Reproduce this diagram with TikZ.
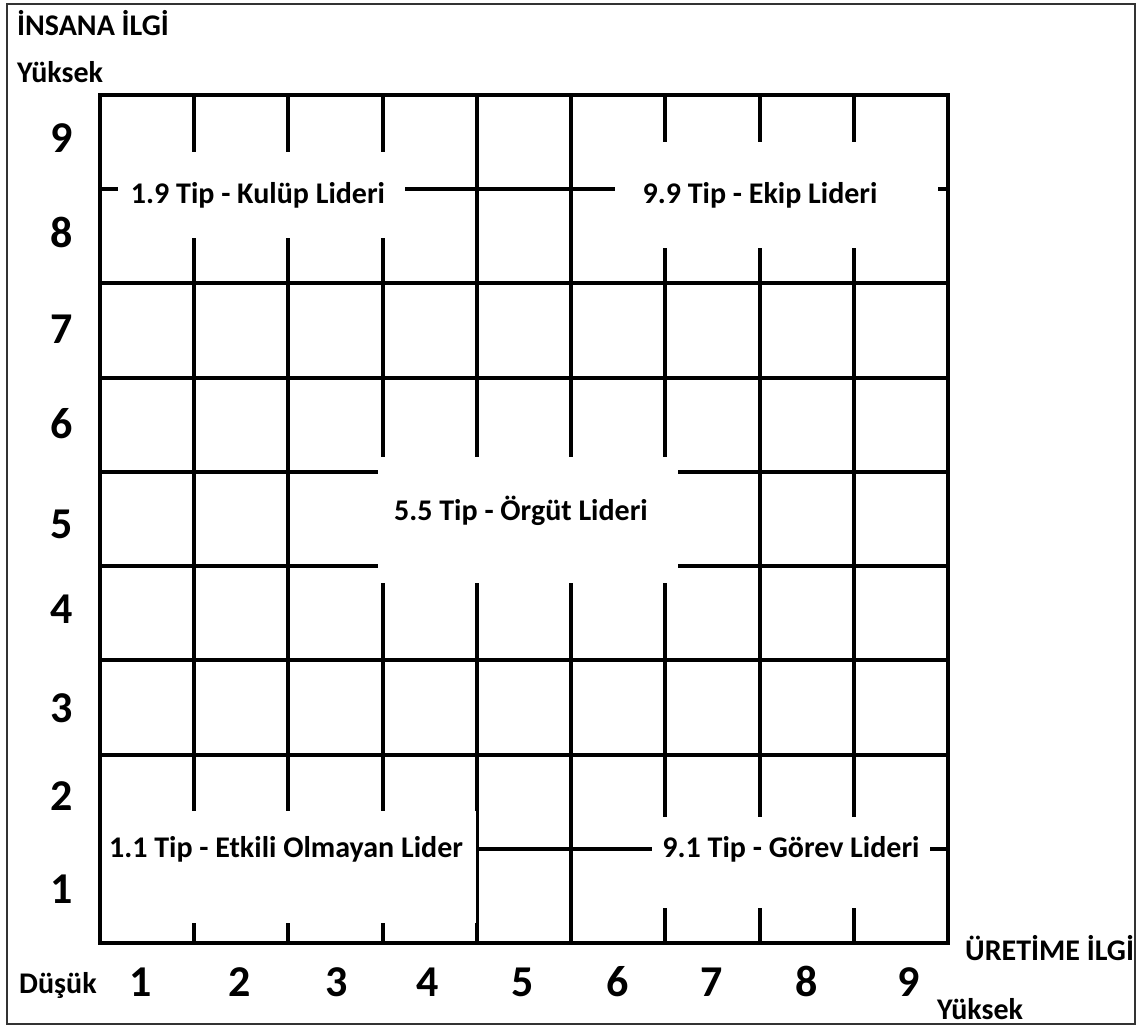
\documentclass[tikz,border=0pt]{standalone}
\usepackage{fontspec}
\setmainfont{Carlito}
\begin{document}
\begin{tikzpicture}[x=1pt,y=-1pt,
    gridline/.style={line width=4pt},
    patch/.style={fill=white},
    lbl/.style={font=\fontsize{30}{34}\selectfont\bfseries, anchor=base, inner sep=0pt},
    axis/.style={font=\fontsize{30}{34}\selectfont\bfseries, anchor=base west, inner sep=0pt},
    num/.style={font=\fontsize{44}{48}\selectfont\bfseries, anchor=base, inner sep=0pt}
]
\useasboundingbox (0,0) rectangle (1139,1027);
\draw[line width=2pt, black!80] (7,4) rectangle (1135,1024);

% inner grid lines
\foreach \i in {1,...,8} {
    \draw[gridline] ({100+94.22*\i},95) -- ({100+94.22*\i},943);
    \draw[gridline] (100,{95+94.22*\i}) -- (948,{95+94.22*\i});
}

% white areas behind the labels
\fill[patch] (118,152) rectangle (405,238);
\fill[patch] (615,142) rectangle (938,248);
\fill[patch] (378,457) rectangle (678,583);
\fill[patch] (101,811) rectangle (476,923);
\fill[patch] (652,817) rectangle (930,908);

\draw[gridline] (100,95) rectangle (948,943);

% leader types
\node[lbl] (club) at (258,203) {1.9 Tip - Kulüp Lideri};
\node[lbl] (team) at (760,203) {9.9 Tip - Ekip Lideri};
\node[lbl] (org) at (521,520) {5.5 Tip - Örgüt Lideri};
\node[lbl] (weak) at (286,857) {1.1 Tip - Etkili Olmayan Lider};
\node[lbl] (task) at (791,857) {9.1 Tip - Görev Lideri};

% axes
\node[axis] (people) at (17,36) {İNSANA İLGİ};
\node[axis] (yhigh) at (17,83) {Yüksek};
\node[axis] (xlow) at (19,993) {Düşük};
\node[axis] (prod) at (965,960) {ÜRETİME İLGİ};
\node[axis] (xhigh) at (937,1019) {Yüksek};

\foreach \n/\yy in {9/153, 8/247, 7/343, 6/438, 5/538, 4/623, 3/722, 2/810, 1/903}
    \node[num] (y\n) at (62,\yy) {\n};
\foreach \n/\xx in {1/141, 2/240, 3/337, 4/428, 5/523, 6/618, 7/712, 8/807, 9/909}
    \node[num] (x\n) at (\xx,996) {\n};

\end{tikzpicture}
\end{document}
